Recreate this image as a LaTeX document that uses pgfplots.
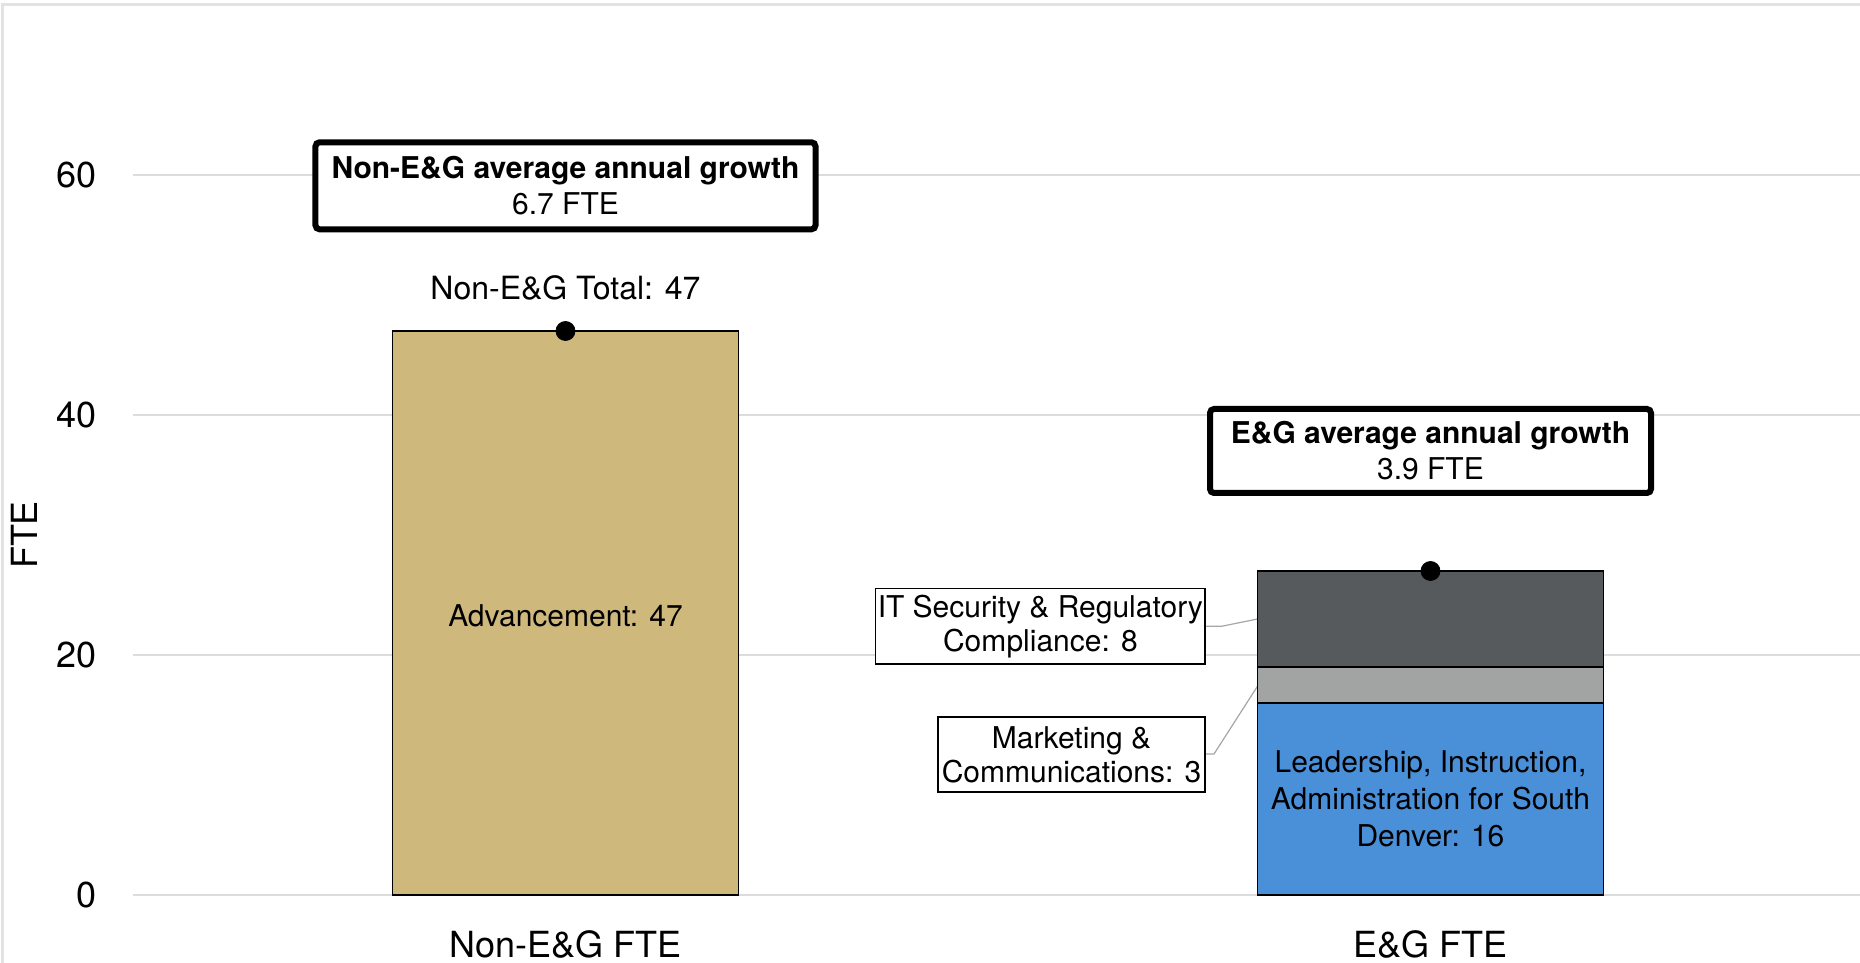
\documentclass[border=0pt]{standalone}
\usepackage{pgfplots}
\pgfplotsset{compat=1.18}
\usepackage{fontspec}
\setmainfont{TeX Gyre Heros}
\definecolor{cugold}{HTML}{CFB87C}
\definecolor{cublue}{HTML}{4A90D9}
\definecolor{lgrey}{HTML}{A2A4A3}
\definecolor{dgrey}{HTML}{565A5C}
\definecolor{gridc}{HTML}{DCDCDC}
\begin{document}
\begin{tikzpicture}
\useasboundingbox (-66.5pt,-34pt) rectangle (863.5pt,447.5pt);
\begin{axis}[
 at={(0pt,0pt)}, anchor=south west,
 scale only axis, width=865pt, height=444pt,
 xmin=-0.5, xmax=1.5, ymin=0, ymax=74,
 xtick={0,1}, xticklabels={Non-E\&G FTE, E\&G FTE},
 ytick={0,20,40,60},
 ymajorgrids, grid style={gridc, line width=0.7pt},
 axis line style={draw=none}, major tick length=0pt,
 ybar stacked, bar width=0.4,
 /pgf/number format/assume math mode=true,
 ticklabel style={font=\fontsize{18}{21.6}\selectfont, inner sep=0pt},
 yticklabel style={xshift=-18pt},
 xticklabel style={yshift=-17.5pt, anchor=north},
 clip=false,
]
\addplot[fill=cugold, draw=black, line width=0.6pt] coordinates {(0,47) (1,0)};
\addplot[fill=cublue, draw=black, line width=0.6pt] coordinates {(0,0) (1,16)};
\addplot[fill=lgrey, draw=black, line width=0.6pt] coordinates {(0,0) (1,3)};
\addplot[fill=dgrey, draw=black, line width=0.6pt] coordinates {(0,0) (1,8)};
\addplot[sharp plot, stack plots=false, only marks, mark=*, mark size=4.75pt, black] coordinates {(0,47) (1,27)};

\coordinate (adv) at (axis cs:0,23.3);
\coordinate (lead) at (axis cs:1,8);

\node[font=\fontsize{16}{19}\selectfont] at (axis cs:0,50.6) {Non-E\&G Total: 47};
\node[font=\fontsize{16}{19}\selectfont] at (axis cs:-0.02,30.8) {E\&G Total: 27};

\node[draw, line width=3pt, rounded corners=2pt, fill=white, minimum width=250pt, minimum height=43.5pt, align=center, inner sep=0pt, font=\fontsize{15}{18}\selectfont] at (axis cs:0,59.1) {\textbf{Non-E\&G average annual growth}\\6.7 FTE};
\node[draw, line width=3pt, rounded corners=2pt, fill=white, minimum width=220.5pt, minimum height=42pt, align=center, inner sep=0pt, font=\fontsize{15}{18}\selectfont] at (axis cs:1,37.0) {\textbf{E\&G average annual growth}\\3.9 FTE};

\draw[gray!70, line width=0.6pt] (axis cs:0.7405,22.4) -- (axis cs:0.759,22.4) -- (axis cs:0.8,23);
\draw[gray!70, line width=0.6pt] (axis cs:0.7405,11.75) -- (axis cs:0.7497,11.75) -- (axis cs:0.8,17.4);

\node[draw, line width=0.8pt, fill=white, minimum width=164.7pt, minimum height=37.7pt, align=center, inner sep=0pt, font=\fontsize{15}{17}\selectfont] at (axis cs:0.549,22.4) {IT Security \& Regulatory\\Compliance: 8};
\node[draw, line width=0.8pt, fill=white, minimum width=133.7pt, minimum height=37.7pt, align=center, inner sep=0pt, font=\fontsize{15}{17}\selectfont] at (axis cs:0.585,11.7) {Marketing \&\\Communications: 3};
\end{axis}
\node[font=\fontsize{15}{18}\selectfont] at (adv) {Advancement: 47};
\node[align=center, font=\fontsize{15}{18.4}\selectfont] at (lead) {Leadership, Instruction,\\Administration for South\\Denver: 16};
\node[rotate=90, font=\fontsize{18}{21.6}\selectfont] at (-54.5pt,180pt) {FTE};
\draw[color=gray!22, line width=1.5pt] (-65pt,-80pt) rectangle (900pt,445pt);
\end{tikzpicture}
\end{document}
